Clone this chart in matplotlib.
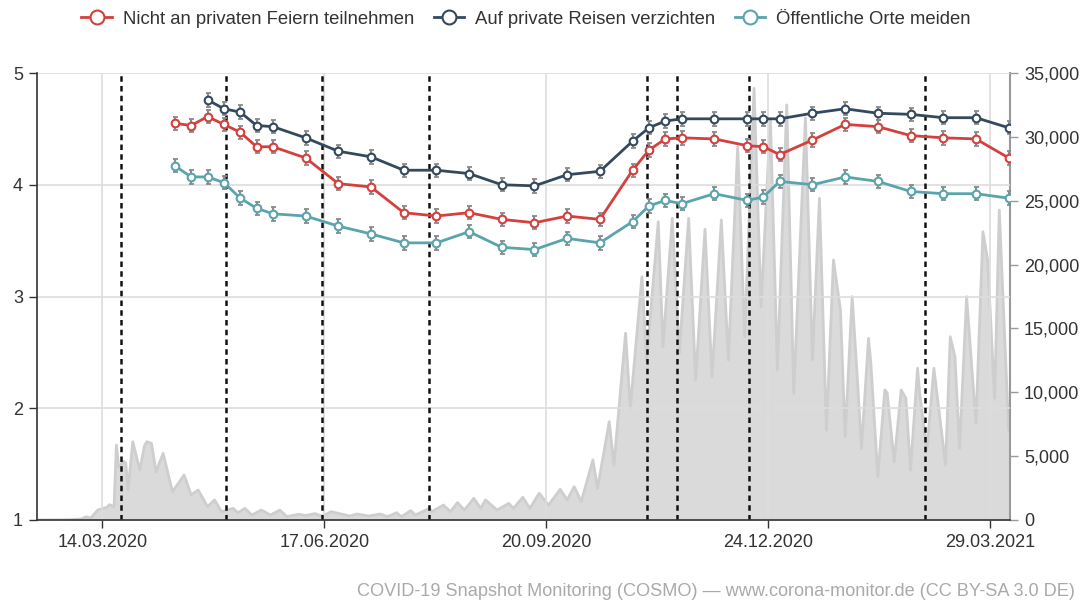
import matplotlib
matplotlib.use('Agg')
import matplotlib.pyplot as plt
import pandas as pd
from matplotlib.lines import Line2D
from matplotlib.ticker import FuncFormatter, FixedLocator

plt.rcParams['font.family'] = ['Liberation Sans', 'DejaVu Sans']

# ---------------- data ----------------
wave_dates = ['14.04.2020', '21.04.2020', '28.04.2020', '05.05.2020', '12.05.2020', '19.05.2020',
              '26.05.2020', '09.06.2020', '23.06.2020', '07.07.2020', '21.07.2020', '04.08.2020',
              '18.08.2020', '01.09.2020', '15.09.2020', '29.09.2020', '13.10.2020', '27.10.2020',
              '03.11.2020', '10.11.2020', '17.11.2020', '01.12.2020', '15.12.2020', '22.12.2020',
              '29.12.2020', '12.01.2021', '26.01.2021', '09.02.2021', '23.02.2021', '09.03.2021',
              '23.03.2021', '06.04.2021']

feiern = [4.55, 4.53, 4.61, 4.54, 4.47, 4.34, 4.34, 4.24, 4.01, 3.98, 3.75, 3.72, 3.75, 3.69,
          3.66, 3.72, 3.69, 4.13, 4.31, 4.41, 4.42, 4.41, 4.35, 4.34, 4.27, 4.40, 4.54, 4.52,
          4.44, 4.42, 4.41, 4.24]

reisen_dates = wave_dates[2:]
reisen = [4.76, 4.68, 4.65, 4.53, 4.52, 4.42, 4.30, 4.25, 4.13, 4.13, 4.10, 4.00, 3.99, 4.09,
          4.12, 4.39, 4.51, 4.57, 4.59, 4.59, 4.59, 4.59, 4.59, 4.64, 4.68, 4.64, 4.63, 4.60,
          4.60, 4.51]

orte = [4.17, 4.07, 4.07, 4.02, 3.88, 3.79, 3.74, 3.72, 3.63, 3.56, 3.48, 3.48, 3.58, 3.44,
        3.42, 3.52, 3.48, 3.67, 3.81, 3.86, 3.83, 3.92, 3.86, 3.89, 4.03, 4.00, 4.07, 4.03,
        3.94, 3.92, 3.92, 3.88]

err = 0.06

case_dates = ['15.02.2020', '29.02.2020', '05.03.2020', '07.03.2020', '09.03.2020', '12.03.2020',
              '16.03.2020', '17.03.2020', '19.03.2020', '20.03.2020', '21.03.2020', '23.03.2020',
              '24.03.2020', '25.03.2020', '27.03.2020', '30.03.2020', '01.04.2020', '02.04.2020',
              '04.04.2020', '06.04.2020', '09.04.2020', '13.04.2020', '18.04.2020', '21.04.2020',
              '24.04.2020', '28.04.2020', '01.05.2020', '04.05.2020', '09.05.2020', '11.05.2020',
              '14.05.2020', '17.05.2020', '21.05.2020', '25.05.2020', '29.05.2020', '01.06.2020',
              '06.06.2020', '09.06.2020', '13.06.2020', '16.06.2020', '20.06.2020', '23.06.2020',
              '28.06.2020', '01.07.2020', '06.07.2020', '11.07.2020', '14.07.2020', '18.07.2020',
              '20.07.2020', '24.07.2020', '26.07.2020', '01.08.2020', '02.08.2020', '07.08.2020',
              '10.08.2020', '13.08.2020', '16.08.2020', '20.08.2020', '23.08.2020', '25.08.2020',
              '30.08.2020', '04.09.2020', '06.09.2020', '10.09.2020', '13.09.2020', '17.09.2020',
              '21.09.2020', '26.09.2020', '29.09.2020', '02.10.2020', '05.10.2020', '10.10.2020',
              '12.10.2020', '17.10.2020', '19.10.2020', '24.10.2020', '26.10.2020', '31.10.2020',
              '02.11.2020', '07.11.2020', '09.11.2020', '13.11.2020', '16.11.2020', '20.11.2020',
              '23.11.2020', '27.11.2020', '30.11.2020', '04.12.2020', '07.12.2020', '11.12.2020',
              '14.12.2020', '18.12.2020', '21.12.2020', '25.12.2020', '28.12.2020', '01.01.2021',
              '04.01.2021', '09.01.2021', '12.01.2021', '15.01.2021', '18.01.2021', '21.01.2021',
              '24.01.2021', '26.01.2021', '29.01.2021', '31.01.2021', '02.02.2021', '05.02.2021',
              '06.02.2021', '09.02.2021', '12.02.2021', '13.02.2021', '16.02.2021', '19.02.2021',
              '21.02.2021', '23.02.2021', '26.02.2021', '27.02.2021', '02.03.2021', '05.03.2021',
              '10.03.2021', '12.03.2021', '14.03.2021', '16.03.2021', '19.03.2021', '23.03.2021',
              '26.03.2021', '28.03.2021', '31.03.2021', '02.04.2021', '06.04.2021', '07.04.2021']

case_values = [0, 20, 80, 250, 150, 780,
               1000, 1200, 1040, 5870, 4170, 4600,
               4460, 2350, 6130, 3910, 5800, 6130,
               6000, 3780, 5220, 2220, 3520, 1960,
               2350, 1040, 1570, 650, 910, 570,
               910, 390, 780, 390, 780, 260,
               450, 350, 500, 300, 650, 520,
               310, 470, 310, 470, 260, 570,
               260, 730, 390, 910, 650, 1170,
               650, 1360, 780, 1700, 910, 1570,
               780, 1300, 910, 1780, 910, 2090,
               1170, 2400, 1570, 2610, 1430, 4700,
               2480, 7700, 4300, 14620, 8740, 19050,
               12500, 23360, 13570, 23620, 13050, 23620,
               10960, 22760, 11220, 23490, 12530, 29230,
               14350, 33800, 16700, 31400, 11750, 32500,
               9920, 31500, 12530, 25190, 7050, 20360,
               16440, 6520, 17490, 11750, 5610, 14220,
               12290, 3390, 10180, 9940, 4570, 10180,
               9530, 3910, 11880, 9790, 5480, 11880,
               4300, 14350, 12790, 5610, 17490, 7570,
               22570, 20360, 9530, 24270, 7050, 8000]

event_dates = ['22.03.2020', '06.05.2020', '16.06.2020', '01.08.2020',
               '02.11.2020', '15.11.2020', '16.12.2020', '01.03.2021']

tick_dates = ['14.03.2020', '17.06.2020', '20.09.2020', '24.12.2020', '29.03.2021']

series_labels = ['Nicht an privaten Feiern teilnehmen', 'Auf private Reisen verzichten',
                 'Öffentliche Orte meiden']
series_colors = ['#d4403d', '#34495e', '#5aa4ad']

# ---------------- helpers ----------------
def to_dt(lst):
    return pd.to_datetime(lst, format='%d.%m.%Y')

W, H = 1081, 604
fig = plt.figure(figsize=(W / 100, H / 100), dpi=100)
ax = fig.add_axes([37 / W, 84 / H, 973 / W, 447 / H])
ax2 = ax.twinx()
ax.set_zorder(2)
ax2.set_zorder(1)
ax.patch.set_visible(False)

# cases area (right axis)
cd = to_dt(case_dates)
ax2.fill_between(cd, case_values, 0, color='#dadada', lw=0, zorder=1)
ax2.plot(cd, case_values, color='#cecece', lw=2, zorder=2)
ax2.set_ylim(0, 35000)
ax2.yaxis.set_major_locator(FixedLocator(range(0, 35001, 5000)))
ax2.yaxis.set_major_formatter(FuncFormatter(lambda v, p: f'{int(v):,}'))

# left axis
ax.set_ylim(1, 5)
ax.set_yticks([1, 2, 3, 4, 5])
xmin = pd.Timestamp('2020-02-15')
xmax = pd.Timestamp('2021-04-06 14:00')
ax.set_xlim(xmin, xmax)
ax2.set_xlim(xmin, xmax)
td = to_dt(tick_dates)
ax.set_xticks(td)
ax.set_xticklabels(tick_dates)

ax.grid(True, color='#dddddd', lw=1.2)
ax.set_axisbelow(True)

for d in to_dt(event_dates):
    ax.axvline(d, color='#111111', lw=1.8, ls=(0, (2.2, 1.7)), zorder=2)

wd = to_dt(wave_dates)
rd = to_dt(reisen_dates)
for dates, vals, c, z in [(wd, feiern, series_colors[0], 5),
                          (rd, reisen, series_colors[1], 4),
                          (wd, orte, series_colors[2], 3)]:
    ax.errorbar(dates, vals, yerr=err, fmt='none', ecolor='#8a8a8a', elinewidth=1.6,
                capsize=1.8, capthick=1.3, zorder=z)
    ax.plot(dates, vals, '-o', color=c, lw=2, ms=5.5, mfc='white', mec=c, mew=1.5, zorder=z + 0.5)

# spines & ticks
for s in ['top', 'right']:
    ax.spines[s].set_visible(False)
ax.spines['left'].set_color('#333333')
ax.spines['bottom'].set_color('#333333')
ax.spines['left'].set_linewidth(1.2)
ax.spines['bottom'].set_linewidth(1.2)
for s in ['top', 'left', 'bottom']:
    ax2.spines[s].set_visible(False)
ax2.spines['right'].set_color('#999999')
ax2.spines['right'].set_linewidth(1.5)

ax.tick_params(axis='y', direction='out', length=6, width=1, color='#333333',
               labelsize=13, labelcolor='#333333', pad=4)
ax.tick_params(axis='x', direction='out', length=6, width=1, color='#333333',
               labelsize=13, labelcolor='#333333', pad=4)
ax2.tick_params(axis='y', direction='out', length=6, width=1, color='#999999',
                labelsize=13, labelcolor='#333333', pad=4)

# legend
handles = [Line2D([0], [0], color=c, lw=2, marker='o', ms=10, mfc='white', mec=c, mew=1.5)
           for c in series_colors]
fig.legend(handles, series_labels, loc='center', bbox_to_anchor=(0.4866, 585 / H), ncol=3,
           frameon=False, fontsize=13.3, handlelength=1.65, handletextpad=0.6,
           columnspacing=1.05, labelcolor='#333333')

fig.text(1075 / W, 12 / H, 'COVID-19 Snapshot Monitoring (COSMO) — www.corona-monitor.de (CC BY-SA 3.0 DE)',
         ha='right', va='center', fontsize=13.1, color='#aaaaaa')

fig.savefig('out.png', dpi=100)
